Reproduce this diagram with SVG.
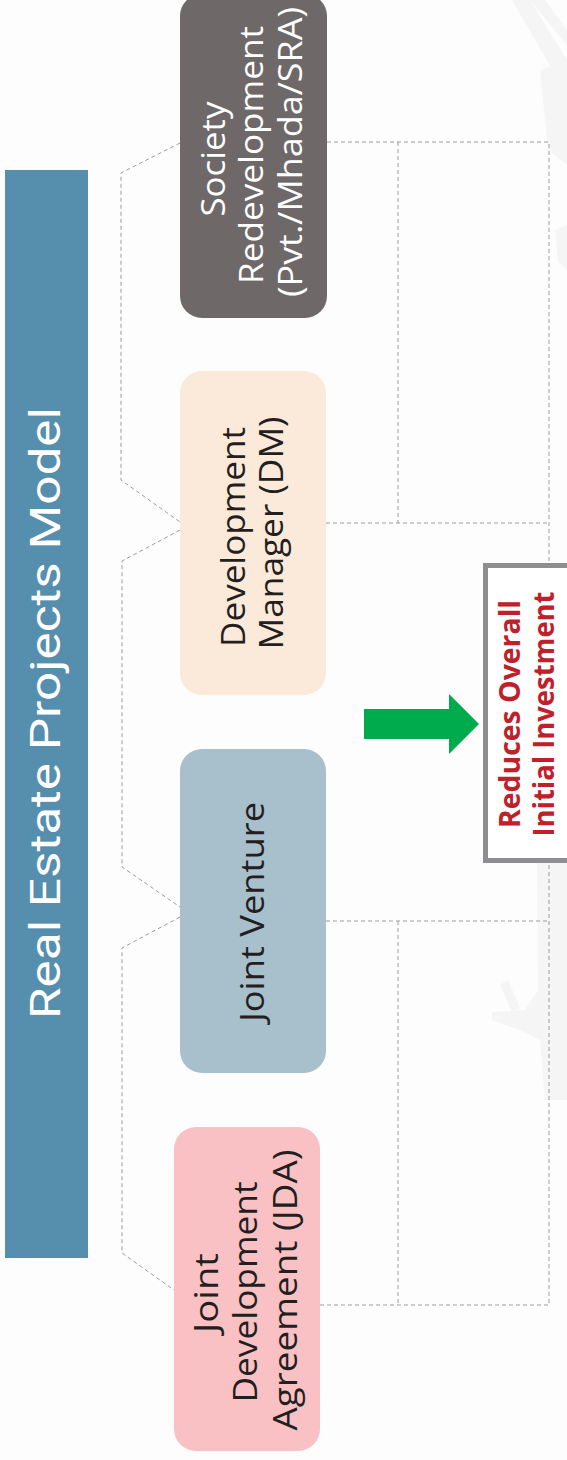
<svg xmlns="http://www.w3.org/2000/svg" width="567" height="1460" viewBox="0 0 567 1460">
<style>
.dash{fill:none;stroke:#9c9c9c;stroke-width:1;stroke-dasharray:4 3}
.nt{font-family:"Open Sans","Liberation Sans",sans-serif;font-size:33px;text-anchor:middle}
.dark{fill:#231f20}
.light{fill:#ffffff}
.bg{fill:#f5f5f5}
.rt{font-family:"Open Sans","Liberation Sans",sans-serif;font-weight:700;font-size:29px;fill:#c0202a;text-anchor:middle}
</style>
<rect x="0" y="0" width="567" height="1460" fill="#fdfdfd"/>
<g id="watermark">
<path class="bg" d="M512 0 L530 0 L567 60 L567 95 Z"/>
<path class="bg" d="M530 0 L545 0 L567 30 L567 45 Z"/>
<path class="bg" d="M540 70 L567 60 L567 165 L548 150 Z"/>
<path class="bg" d="M555 230 L567 225 L567 270 L558 262 Z"/>
<path class="bg" d="M537 863 L567 863 L567 1100 L545 1100 L540 1040 L520 1030 L492 1020 L492 1012 L525 1010 L538 990 Z"/>
<path class="bg" d="M500 985 L508 980 L520 1008 L512 1012 Z"/>
</g>
<g id="title">
<rect x="5" y="170" width="83" height="1088" fill="#568eae"/>
<text transform="translate(60,713) rotate(-90)" font-family="Roboto,'Liberation Sans',sans-serif" font-size="42" fill="#ffffff" text-anchor="middle" textLength="612" lengthAdjust="spacingAndGlyphs">Real Estate Projects Model</text>
</g>
<g id="connectors">
<polyline class="dash" points="180,143 121,173 121,480 180,522"/>
<polyline class="dash" points="180,530 122,561 122,867 180,907"/>
<polyline class="dash" points="180,917 122,948 122,1253 174,1290"/>
<polyline class="dash" points="327,142 549,142 549,1305 320,1305"/>
<line class="dash" x1="326" y1="523" x2="549" y2="523"/>
<line class="dash" x1="326" y1="921" x2="549" y2="921"/>
<line class="dash" x1="398" y1="142" x2="398" y2="523"/>
<line class="dash" x1="398" y1="921" x2="398" y2="1305"/>
<polygon points="364,709 449,709 449,694 479,724 449,754 449,739 364,739" fill="#00ab4e"/>
</g>
<g id="node-society">
<rect x="180" y="-6" width="147" height="324" rx="22" fill="#6e6968"/>
<text class="nt light" transform="translate(225,159) rotate(-90)" textLength="115" lengthAdjust="spacingAndGlyphs">Society</text>
<text class="nt light" transform="translate(263,155) rotate(-90)" textLength="258" lengthAdjust="spacingAndGlyphs">Redevelopment</text>
<text class="nt light" transform="translate(302,152) rotate(-90)" textLength="290" lengthAdjust="spacingAndGlyphs">(Pvt./Mhada/SRA)</text>
</g>
<g id="node-dm">
<rect x="180" y="371" width="146" height="324" rx="22" fill="#fbead9"/>
<text class="nt dark" transform="translate(245,537) rotate(-90)" textLength="220" lengthAdjust="spacingAndGlyphs">Development</text>
<text class="nt dark" transform="translate(283,533) rotate(-90)" textLength="233" lengthAdjust="spacingAndGlyphs">Manager (DM)</text>
</g>
<g id="node-jv">
<rect x="180" y="749" width="146" height="324" rx="22" fill="#a8bfcc"/>
<text class="nt dark" transform="translate(264,912) rotate(-90)" textLength="220" lengthAdjust="spacingAndGlyphs">Joint Venture</text>
</g>
<g id="node-jda">
<rect x="174" y="1127" width="146" height="324" rx="22" fill="#f9c1c4"/>
<text class="nt dark" transform="translate(218,1293) rotate(-90)" textLength="80" lengthAdjust="spacingAndGlyphs">Joint</text>
<text class="nt dark" transform="translate(257,1292) rotate(-90)" textLength="221" lengthAdjust="spacingAndGlyphs">Development</text>
<text class="nt dark" transform="translate(297,1290) rotate(-90)" textLength="281" lengthAdjust="spacingAndGlyphs">Agreement (JDA)</text>
</g>
<g id="node-reduces">
<rect x="485.5" y="565.5" width="100" height="295" fill="#ffffff" stroke="#8e8e90" stroke-width="5"/>
<text class="rt" transform="translate(520,714) rotate(-90)" textLength="228" lengthAdjust="spacingAndGlyphs">Reduces Overall</text>
<text class="rt" transform="translate(554,714) rotate(-90)" textLength="245" lengthAdjust="spacingAndGlyphs">Initial Investment</text>
</g>
</svg>
